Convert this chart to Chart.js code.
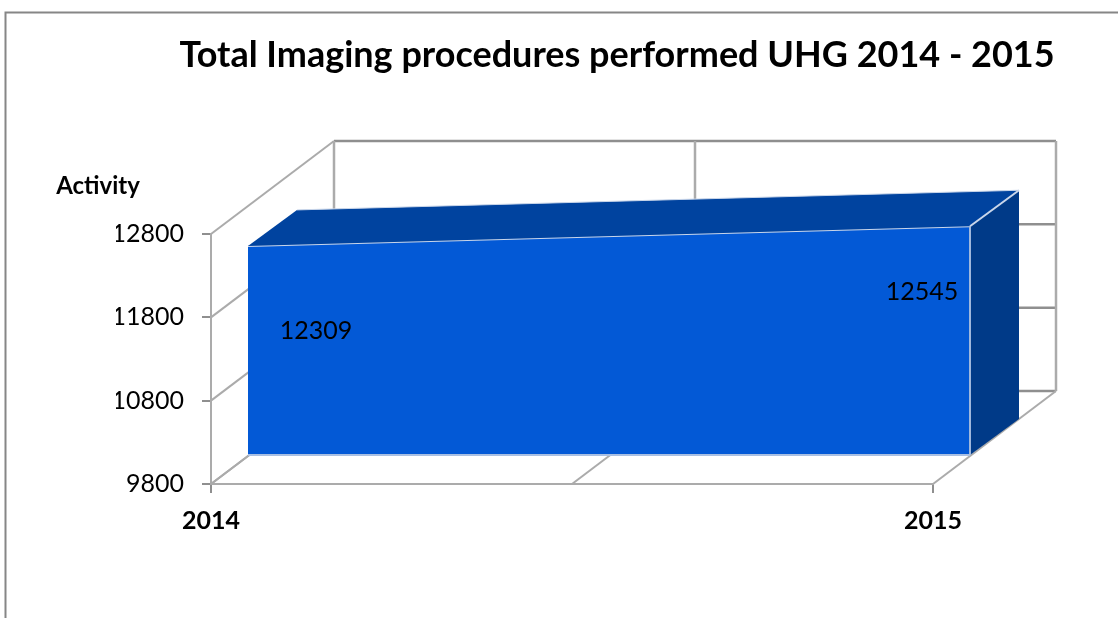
<!DOCTYPE html>
<html>
<head>
<meta charset="utf-8">
<style>html,body{margin:0;padding:0;background:#fff}canvas{display:block}</style>
<script src="https://cdn.jsdelivr.net/npm/chart.js@4"></script>
</head>
<body>
<canvas id="c" width="1118" height="618"></canvas>
<script>
const categories = ['2014', '2015'];
const activity = [12309, 12545];
const yMin = 9800;
const yMax = 12800;
const yStep = 1000;
const titleText = 'Total Imaging procedures performed UHG 2014 - 2015';
const yAxisLabel = 'Activity';

const WALL = {dx: 123, dy: -93};
const FRONT = {dx: 37, dy: -29};
const DEEP = {dx: 49, dy: -36};
const GRID = '#ababab';
const GRID_DARK = '#8f8f8f';

function seg(ctx, x1, y1, x2, y2, color, w) {
  ctx.beginPath(); ctx.moveTo(x1, y1); ctx.lineTo(x2, y2);
  ctx.strokeStyle = color; ctx.lineWidth = w; ctx.stroke();
}
function poly(ctx, pts, color) {
  ctx.beginPath();
  pts.forEach((p, i) => i ? ctx.lineTo(p[0], p[1]) : ctx.moveTo(p[0], p[1]));
  ctx.closePath(); ctx.fillStyle = color; ctx.fill();
}

const depthPlugin = {
  id: 'depth',
  beforeDraw(chart) {
    const ctx = chart.ctx;
    ctx.save();
    ctx.fillStyle = '#fff';
    ctx.fillRect(0, 0, chart.width, chart.height);
    ctx.beginPath();
    ctx.moveTo(5.5, chart.height); ctx.lineTo(5.5, 12.5); ctx.lineTo(chart.width, 12.5);
    ctx.strokeStyle = '#868686'; ctx.lineWidth = 2; ctx.stroke();
    ctx.restore();
  },
  beforeDatasetsDraw(chart) {
    const {ctx, chartArea: a, scales: {x, y}} = chart;
    ctx.save();
    for (let v = yMin; v <= yMax; v += yStep) {
      const py = y.getPixelForValue(v);
      seg(ctx, a.left, py, a.left + WALL.dx, py + WALL.dy, GRID, 2);
      seg(ctx, a.left + WALL.dx, py + WALL.dy, a.right + WALL.dx, py + WALL.dy, GRID_DARK, 2.5);
    }
    const xs = [x.getPixelForValue(0), (x.getPixelForValue(0) + x.getPixelForValue(1)) / 2, x.getPixelForValue(1)];
    xs.forEach(px => {
      seg(ctx, px, a.bottom, px + WALL.dx, a.bottom + WALL.dy, GRID, 2);
      seg(ctx, px + WALL.dx, a.bottom + WALL.dy, px + WALL.dx, a.top + WALL.dy, GRID, 2.5);
    });
    ctx.restore();
    ctx.save();
    ctx.translate(FRONT.dx, FRONT.dy);
  },
  afterDatasetsDraw(chart) {
    const {ctx, chartArea: a, scales: {x, y}} = chart;
    ctx.restore();
    const x0 = x.getPixelForValue(0) + FRONT.dx, x1 = x.getPixelForValue(1) + FRONT.dx;
    const y0 = y.getPixelForValue(activity[0]) + FRONT.dy, y1 = y.getPixelForValue(activity[1]) + FRONT.dy;
    const base = a.bottom + FRONT.dy;
    ctx.save();
    poly(ctx, [[x0, y0], [x1, y1], [x1 + DEEP.dx, y1 + DEEP.dy], [x0 + DEEP.dx, y0 + DEEP.dy]], '#00439f');
    poly(ctx, [[x1, y1], [x1 + DEEP.dx, y1 + DEEP.dy], [x1 + DEEP.dx, base + DEEP.dy], [x1, base]], '#003a88');
    seg(ctx, x1, y1, x1, base, '#9fb7dc', 2);
    seg(ctx, x0, base, x1, base, '#a9bfe2', 2);
    seg(ctx, x1, y1, x1 + DEEP.dx, y1 + DEEP.dy, '#c9d6ea', 2);
    seg(ctx, x0 + DEEP.dx, y0 + DEEP.dy, x1 + DEEP.dx, y1 + DEEP.dy, '#c9d6ea', 1);
    ctx.fillStyle = '#000';
    ctx.font = '25px Lato';
    ctx.textAlign = 'center';
    ctx.textBaseline = 'middle';
    ctx.fillText(String(activity[0]), x0 + 68, y0 + 85);
    ctx.fillText(String(activity[1]), x1 - 48, y1 + 66);
    ctx.font = 'bold 24px Lato';
    ctx.fillText(yAxisLabel, 98, 186);
    ctx.restore();
  }
};

new Chart(document.getElementById('c'), {
  type: 'line',
  data: {
    labels: categories,
    datasets: [{
      data: activity,
      borderColor: '#c9d6ea',
      borderWidth: 2,
      backgroundColor: '#0359d6',
      fill: 'start',
      pointRadius: 0,
      tension: 0,
      clip: false
    }]
  },
  options: {
    responsive: false,
    animation: false,
    events: [],
    layout: {padding: {left: 116, right: 0, top: 0, bottom: 0}},
    plugins: {
      legend: {display: false},
      tooltip: {enabled: false},
      title: {
        display: true,
        text: titleText,
        color: '#000',
        font: {family: 'Lato', size: 36, weight: 'bold', lineHeight: 1.2},
        padding: {top: 34, bottom: 156.8}
      }
    },
    scales: {
      x: {
        type: 'category',
        offset: false,
        afterFit(s) { s.height = 134; },
        grid: {display: true, drawOnChartArea: false, drawTicks: true, tickLength: 9, color: GRID_DARK, lineWidth: 2},
        border: {display: true, color: GRID, width: 2},
        ticks: {color: '#000', font: {family: 'Lato', size: 25, weight: 'bold'}, padding: 13, maxRotation: 0, autoSkip: false}
      },
      y: {
        min: yMin,
        max: yMax,
        afterFit(s) { s.width = 95; },
        grid: {display: true, drawOnChartArea: false, drawTicks: true, tickLength: 9, color: GRID_DARK, lineWidth: 2},
        border: {display: true, color: GRID, width: 2},
        ticks: {stepSize: yStep, color: '#000', font: {family: 'Lato', size: 25}, padding: 18, callback: v => String(v)}
      },
      spacer: {
        position: 'right',
        display: true,
        afterFit(s) { s.width = 185; },
        grid: {display: false},
        border: {display: false},
        ticks: {display: false}
      }
    }
  },
  plugins: [depthPlugin]
});
</script>
</body>
</html>
